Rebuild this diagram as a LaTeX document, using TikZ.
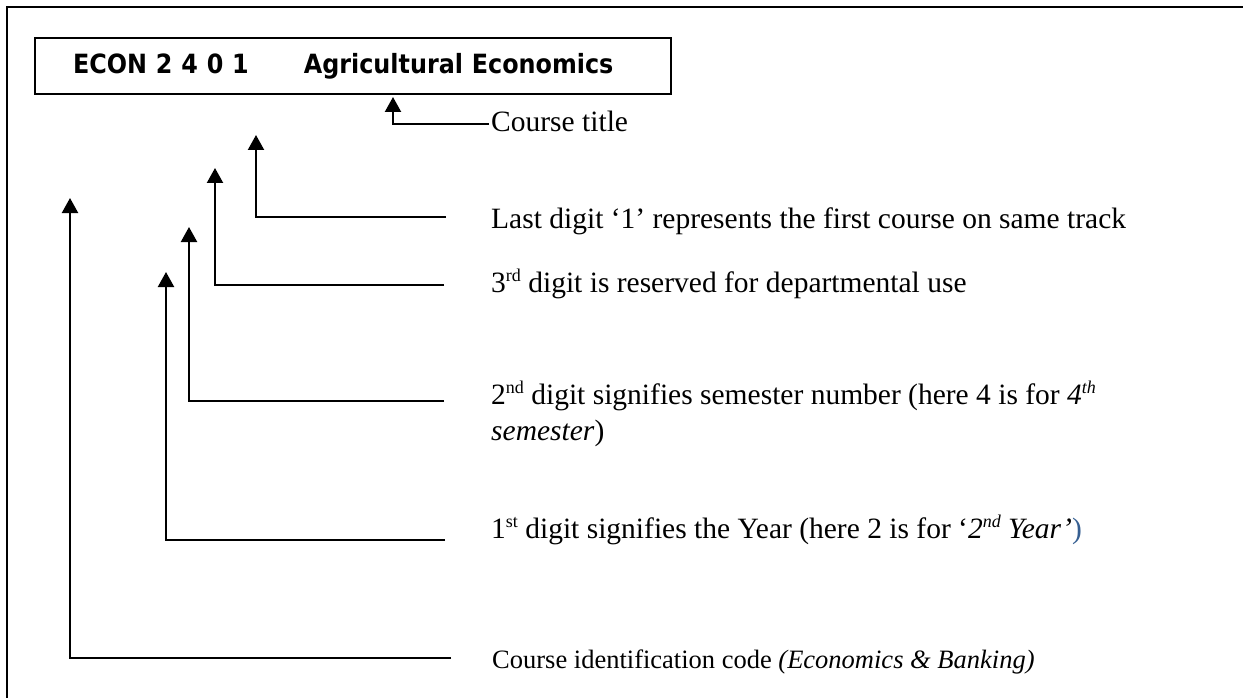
\documentclass[tikz,border=0pt]{standalone}
\usepackage{fontspec}
\setmainfont{Liberation Serif}
\newfontfamily\boxfont[FakeStretch=0.9]{DejaVu Sans}
\usetikzlibrary{arrows.meta}
\definecolor{parenblue}{RGB}{54,95,145}
\newcommand\mysup[1]{\raisebox{10.5pt}{\fontsize{18}{18}\selectfont #1}}
\begin{document}
\begin{tikzpicture}[x=1pt,y=-1pt,
  arr/.style={line width=2.2pt,-{Triangle[width=16pt,length=15pt]}},
  lbl/.style={anchor=base west,inner sep=0pt,font=\fontsize{29.5}{36}\selectfont},
  lblsmall/.style={anchor=base west,inner sep=0pt,font=\fontsize{26.5}{32}\selectfont},
  framebox/.style={draw,line width=2.2pt,anchor=north west,minimum width=636pt,minimum height=56pt,inner sep=0pt,text width=636pt,align=left,font=\boxfont\bfseries\fontsize{26.5}{30}\selectfont}
]
\useasboundingbox (0,0) rectangle (1243,698);
\draw[line width=2.6pt] (1243,7) -- (7,7) -- (7,698);
\node[framebox] (box) at (34,37) {\hspace*{38pt}ECON 2 4 0 1\hspace{55pt}Agricultural Economics};

% course title
\coordinate (tT) at (393,97);
\coordinate (cT) at (489,124);
\node[lbl] (lT) at (491,132) {Course title};
\draw[arr] (cT) -| (tT);

% last digit
\coordinate (tA) at (256,135);
\coordinate (cA) at (446,217);
\node[lbl] (lA) at (491,228) {Last digit ‘1’ represents the first course on same track};
\draw[arr] (cA) -| (tA);

% 3rd digit
\coordinate (tB) at (215,168);
\coordinate (cB) at (444,285);
\node[lbl] (lB) at (491,292) {3\mysup{rd} digit is reserved for departmental use};
\draw[arr] (cB) -| (tB);

% 2nd digit
\coordinate (tC) at (189,227);
\coordinate (cC) at (444,401);
\node[lbl] (lC) at (491,404) {2\mysup{nd} digit signifies semester number (here 4 is for \textit{4\mysup{th}}};
\node[lbl] (lC2) at (491,440) {\textit{semester})};
\draw[arr] (cC) -| (tC);

% 1st digit
\coordinate (tD) at (166,272);
\coordinate (cD) at (445,540);
\node[lbl] (lD) at (491,538) {1\mysup{st} digit signifies the Year (here 2 is for ‘\textit{2\mysup{nd} Year’}\textcolor{parenblue}{)}};
\draw[arr] (cD) -| (tD);

% course identification code
\coordinate (tE) at (70,198);
\coordinate (cE) at (451,658);
\node[lblsmall] (lE) at (492,668) {Course identification code \textit{(Economics \& Banking)}};
\draw[arr] (cE) -| (tE);
\end{tikzpicture}
\end{document}
